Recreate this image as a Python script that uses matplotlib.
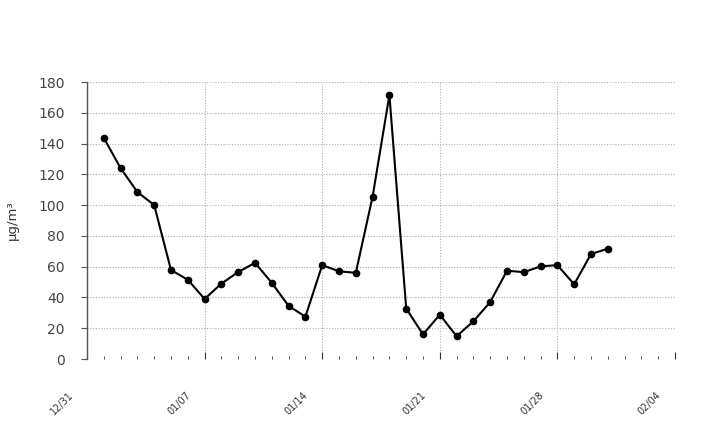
import matplotlib
matplotlib.use("Agg")
import matplotlib.pyplot as plt
import matplotlib.dates as mdates
import matplotlib.transforms as mtransforms
import numpy as np
import datetime as dt

start = dt.date(2015, 1, 1)
values = [143.7, 124.0, 108.5, 100.0, 57.8, 51.5, 39.0, 49.0, 56.5, 62.5,
          49.5, 34.5, 27.5, 61.0, 57.0, 56.0, 105.5, 171.5, 32.8, 16.0,
          28.8, 14.8, 24.5, 37.0, 57.4, 56.4, 60.2, 61.0, 48.5, 68.2, 71.7]
dates = [start + dt.timedelta(days=i) for i in range(len(values))]
ylabel = "µg/m³"

fig = plt.figure(figsize=(7.04, 4.48), dpi=100)
ax = fig.add_axes([87/704, 1-359/448, (675-87)/704, (359-82)/448])
ax.plot(dates, values, color="black", lw=1.5, marker="o", ms=4.5, zorder=3)

ax.set_xlim(dt.date(2014, 12, 31), dt.date(2015, 2, 4))
ax.set_ylim(0, 180)
ax.set_yticks(np.arange(0, 181, 20))
ax.set_xticks([dt.date(2014, 12, 31) + dt.timedelta(days=7*k) for k in range(6)])
ax.xaxis.set_major_formatter(mdates.DateFormatter("%m/%d"))
ax.xaxis.set_minor_locator(mdates.DayLocator())

ax.grid(True, which="major", color="#b0b0b0", ls=(0, (1, 1.5)), lw=0.8)
for s in ["top", "right", "bottom"]:
    ax.spines[s].set_visible(False)
ax.spines["left"].set_color("#555555")
ax.spines["left"].set_linewidth(1.0)

ax.tick_params(axis="y", length=4, direction="out", color="#555555",
               labelsize=10, labelcolor="#444444", pad=12)
ax.tick_params(axis="x", which="major", direction="in", length=5, color="#333333",
               labelsize=7, labelcolor="#333333", pad=22)
ax.tick_params(axis="x", which="minor", direction="in", length=2.5, color="#333333")
offset = mtransforms.ScaledTranslation(-12/100, 0, fig.dpi_scale_trans)
for lab in ax.get_xticklabels():
    lab.set_rotation(45)
    lab.set_ha("right")
    lab.set_transform(lab.get_transform() + offset)

ax.set_ylabel(ylabel, fontsize=9.5, color="#333333", labelpad=14)

fig.savefig("out.png", dpi=100)
